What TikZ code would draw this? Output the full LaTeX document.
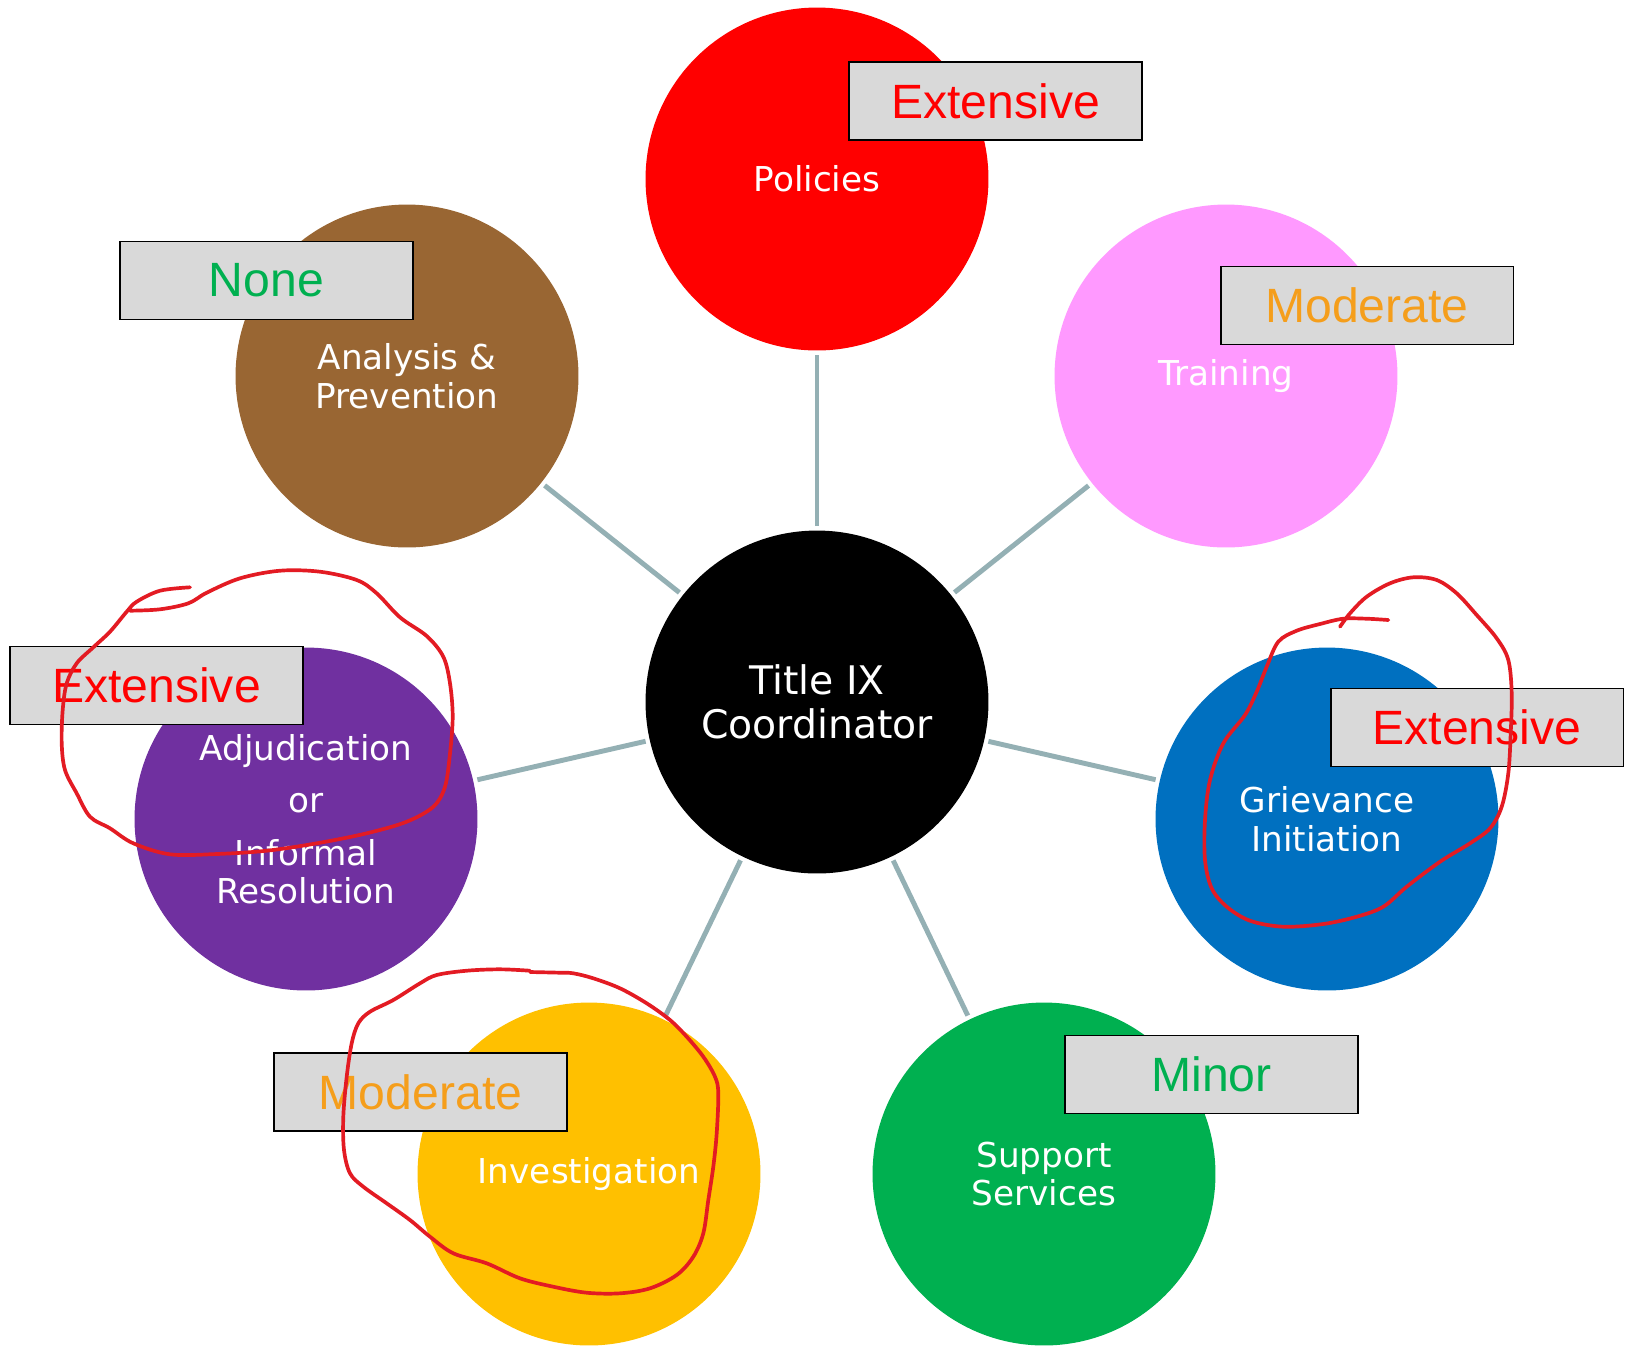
\documentclass[tikz,border=0pt]{standalone}
\usepackage{fontspec}
\setmainfont{DejaVu Sans}
\newfontfamily\ratingfont{Liberation Sans}
\usetikzlibrary{positioning}

\definecolor{spoke}{RGB}{148,176,180}
\definecolor{boxgray}{RGB}{217,217,217}
\definecolor{penred}{RGB}{227,27,35}
\definecolor{polred}{RGB}{255,0,0}
\definecolor{trainpink}{RGB}{255,153,255}
\definecolor{grievblue}{RGB}{0,112,192}
\definecolor{suppgreen}{RGB}{0,176,80}
\definecolor{investgold}{RGB}{255,192,0}
\definecolor{adjpurple}{RGB}{112,48,160}
\definecolor{anabrown}{RGB}{153,102,51}
\definecolor{modorange}{RGB}{245,158,27}

\tikzset{
  topic/.style={circle, fill=#1, minimum size=6.86cm, inner sep=0pt, text=white,
    align=center, font=\fontsize{19.5}{21.9}\selectfont},
  ratingbox/.style={draw=black, line width=1.1pt, fill=boxgray, minimum width=5.86cm,
    minimum height=1.56cm, inner sep=0pt, text=#1, font=\ratingfont\fontsize{27.4}{33}\selectfont},
  spokeline/.style={draw=spoke, line width=2.8pt, shorten <=0.08cm, shorten >=0.08cm},
  scribble/.style={draw=penred, line width=2.1pt, line cap=round, line join=round}
}

\begin{document}
\begin{tikzpicture}[x=0.02cm, y=-0.02cm]
  \useasboundingbox (0,0) rectangle (1633,1347);

  % Define nodes
  \node[topic=black, font=\fontsize{22.4}{25}\selectfont] (Coordinator) at (817,702) {Title IX\\Coordinator};
  \node[topic=polred] (Policies) at (817,179) {Policies};
  \node[topic=trainpink] (Training) at (1226,376) {Training};
  \node[topic=grievblue] (Grievance) at (1327,819) {Grievance\\Initiation};
  \node[topic=suppgreen] (Support) at (1044,1174) {Support\\Services};
  \node[topic=investgold] (Investigation) at (589,1174) {Investigation};
  \node[topic=adjpurple] (Adjudication) at (306,819) {Adjudication\\[0.28cm]or\\[0.28cm]Informal\\Resolution};
  \node[topic=anabrown] (Analysis) at (407,376) {Analysis \&\\Prevention};

  % Connect the nodes
  \draw[spokeline] (Coordinator) -- (Policies);
  \draw[spokeline] (Coordinator) -- (Training);
  \draw[spokeline] (Coordinator) -- (Grievance);
  \draw[spokeline] (Coordinator) -- (Support);
  \draw[spokeline] (Coordinator) -- (Investigation);
  \draw[spokeline] (Coordinator) -- (Adjudication);
  \draw[spokeline] (Coordinator) -- (Analysis);

  % Ratings
  \node[ratingbox=polred] (PoliciesRating) at (995.5,101) {Extensive};
  \node[ratingbox=modorange] (TrainingRating) at (1367,305.5) {Moderate};
  \node[ratingbox=polred] (GrievanceRating) at (1477,727.5) {Extensive};
  \node[ratingbox=suppgreen] (SupportRating) at (1211.5,1074.5) {Minor};
  \node[ratingbox=modorange] (InvestigationRating) at (420.5,1092) {Moderate};
  \node[ratingbox=polred] (AdjudicationRating) at (156.5,685.5) {Extensive};
  \node[ratingbox=suppgreen] (AnalysisRating) at (266.5,280.5) {None};

  % Pen marks
  \draw[scribble] plot[smooth, tension=0.55] coordinates {
    (190,587.3) (160,590.7) (136.7,601.7) (126.7,611.7) (110,631.7) (93.3,647.3)
    (76.7,663.3) (66.7,683.3) (62.7,710) (61.7,743.3) (65,770) (76.7,793.3)
    (90,816.7) (110,828.3) (133.3,843.3) (170,854.3) (216.7,854) (266.7,850.7)
    (316.7,843.3) (366.7,833.3) (406.7,821.7) (433.3,806.7) (445,786.7) (450,753.3)
    (452.7,716.7) (450,683.3) (443.3,656.7) (426.7,636) (400,617.3) (376.7,593.3)
    (356.7,580) (320,571.7) (280,570.7) (240,578.3) (206.7,592.7) (188.3,603.3)
    (160,609.3) (130,610.7)};
  \draw[scribble] plot[smooth, tension=0.55] coordinates {
    (1340,626.7) (1350,613.3) (1366.7,596.7) (1390,583.3) (1413.3,577.3) (1436.7,580)
    (1456.7,593.3) (1476.7,615) (1496.7,638.3) (1508.3,660) (1511.7,693.3) (1510.7,733.3)
    (1508.3,773.3) (1501.7,806.7) (1490,828.3) (1470,843.3) (1440,861.7) (1406.7,886.7)
    (1383.3,906.7) (1356.7,916.7) (1323.3,924) (1283.3,926.7) (1250,920.7) (1226.7,906.7)
    (1211.7,888.3) (1205,860) (1205,820) (1210,780) (1223.3,743.3) (1245,715)
    (1256.7,691.7) (1266.7,666.7) (1278.3,641.7) (1296.7,630.7) (1320,624) (1343.3,618.7)
    (1366.7,618.7) (1388.3,620)};
  \draw[scribble] plot[smooth, tension=0.55] coordinates {
    (530,970.7) (500,969.3) (466.7,970.7) (436.7,975) (420,983.3) (393.3,1000)
    (370,1011.7) (358.3,1023.3) (351.7,1043.3) (346.7,1076.7) (343.3,1116.7) (344,1150)
    (350,1173.3) (363.3,1186.7) (386.7,1203.3) (410,1220) (430,1236.7) (453.3,1253.3)
    (486.7,1263.3) (520,1278.3) (553.3,1286.7) (586.7,1292.7) (620,1293.3) (650,1288.3)
    (676.7,1275) (693.3,1256.7) (703.3,1233.3) (708.3,1200) (713.3,1166.7) (716.7,1133.3)
    (718.3,1093.3) (715,1076.7) (703.3,1056.7) (686.7,1036.7) (670,1020) (646.7,1003.3)
    (620,988.3) (593.3,978.3) (573.3,973.3) (560,972.7) (530,972)};
\end{tikzpicture}
\end{document}
